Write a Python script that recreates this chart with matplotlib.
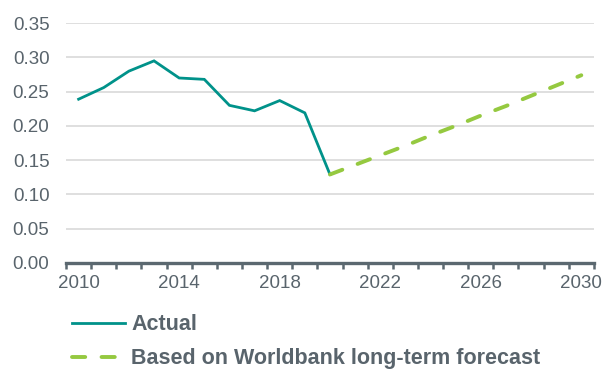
import matplotlib.pyplot as plt
from matplotlib.lines import Line2D

# series
actual_years = [2010, 2011, 2012, 2013, 2014, 2015, 2016, 2017, 2018, 2019, 2020]
actual_vals = [0.239, 0.256, 0.280, 0.295, 0.270, 0.268, 0.230, 0.222, 0.237, 0.219, 0.129]

fc_years = [2020, 2021, 2022, 2023, 2024, 2025, 2026, 2027, 2028, 2029, 2030]
fc_vals = [0.129, 0.143, 0.157, 0.171, 0.186, 0.200, 0.215, 0.229, 0.244, 0.259, 0.274]

year_labels = [2010, 2014, 2018, 2022, 2026, 2030]
y_ticks = [0.00, 0.05, 0.10, 0.15, 0.20, 0.25, 0.30, 0.35]

TEAL = '#00928a'
GREEN = '#95c940'
TEXT = '#59646c'
AXIS = '#5b6870'

plt.rcParams['font.family'] = ['Liberation Sans', 'DejaVu Sans']

fig = plt.figure(figsize=(6.06, 3.69), dpi=100)
ax = fig.add_axes([0.109, 0.288, 0.871, 0.649])

ax.plot(actual_years, actual_vals, color=TEAL, lw=2.0, solid_joinstyle='miter', zorder=3)
ax.plot(fc_years, fc_vals, color=GREEN, lw=2.8, dashes=(3.4, 4.2),
        dash_capstyle='round', zorder=3)

ax.set_xlim(2009.5, 2030.5)
ax.set_ylim(0, 0.35)
ax.set_yticks(y_ticks)
ax.set_yticklabels([f'{v:.2f}' for v in y_ticks])
ax.set_xticks(year_labels)
ax.set_xticks([y + 0.5 for y in range(2009, 2031)], minor=True)

ax.grid(axis='y', color='#d9d9d9', lw=1.2)
ax.set_axisbelow(True)
for s in ['top', 'right', 'left']:
    ax.spines[s].set_visible(False)
ax.spines['bottom'].set_color(AXIS)
ax.spines['bottom'].set_linewidth(2.4)

ax.tick_params(axis='x', which='major', length=0, pad=9, labelsize=13.5, labelcolor=TEXT)
ax.tick_params(axis='x', which='minor', length=4, width=1.8, color=AXIS)
ax.tick_params(axis='y', length=0, pad=12, labelsize=13.5, labelcolor=TEXT)

handles = [
    Line2D([], [], color=TEAL, lw=2.0),
    Line2D([], [], color=GREEN, lw=2.8, dashes=(3.4, 4.2), dash_capstyle='round'),
]
leg = fig.legend(handles, ['Actual', 'Based on Worldbank long-term forecast'],
                 loc='upper left', bbox_to_anchor=(0.118, 0.148), frameon=False,
                 borderpad=0, borderaxespad=0,
                 handlelength=2.5, handletextpad=0.28, labelspacing=0.6,
                 prop={'weight': 'bold', 'size': 15.5})
for t in leg.get_texts():
    t.set_color(TEXT)

fig.savefig('out.png', dpi=100)
